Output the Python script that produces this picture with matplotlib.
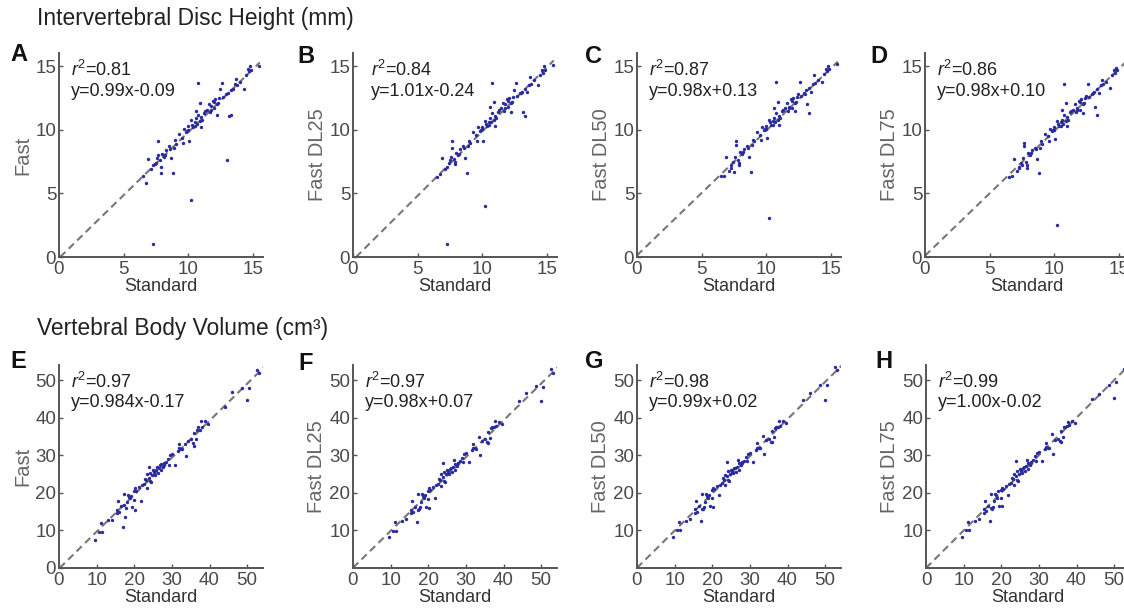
import matplotlib
matplotlib.use("Agg")
import matplotlib.pyplot as plt

plt.rcParams['font.family'] = ['Liberation Sans', 'DejaVu Sans']
plt.rcParams['mathtext.fontset'] = 'custom'
plt.rcParams['mathtext.rm'] = 'Liberation Sans'
plt.rcParams['mathtext.it'] = 'Liberation Sans:italic'

## Intervertebral disc height (mm)
std_disc = [6.5, 6.7, 6.9, 7.1, 7.3, 7.3, 7.5, 7.6, 7.7, 7.7,
            7.8, 7.9, 7.9, 8.0, 8.1, 8.3, 8.5, 8.6, 8.7, 8.8,
            8.9, 9.1, 9.3, 9.5, 9.6, 9.7, 9.8, 9.9, 10.0, 10.1,
            10.2, 10.2, 10.3, 10.4, 10.5, 10.6, 10.6, 10.7, 10.8, 10.8,
            10.9, 10.9, 11.0, 11.0, 11.1, 11.2, 11.5, 11.6, 11.7, 11.8,
            11.9, 12.0, 12.1, 12.2, 12.3, 12.4, 12.5, 12.6, 12.7, 12.9,
            13.0, 13.2, 13.3, 13.3, 13.5, 13.6, 13.7, 13.8, 14.0, 14.3,
            14.5, 14.6, 14.7, 14.8, 14.9, 15.5, 11.3, 12.0, 10.5, 9.0,
            8.2, 11.8, 12.2, 10.0, 7.4, 13.1]
fast_disc = [6.4, 5.8, 7.7, 6.9, 1.0, 7.2, 7.4, 7.8, 9.1, 8.0,
             7.6, 7.1, 6.6, 8.1, 7.9, 8.4, 8.7, 8.5, 7.8, 6.6,
             8.6, 8.9, 9.7, 9.4, 9.0, 10.1, 9.8, 9.9, 10.0, 9.1,
             4.5, 10.8, 10.4, 10.2, 10.6, 11.5, 10.9, 10.5, 13.7, 11.2,
             10.7, 12.1, 10.2, 11.0, 10.8, 11.3, 11.6, 12.0, 11.4, 11.9,
             12.3, 11.7, 12.4, 11.2, 12.1, 12.5, 13.2, 13.7, 12.6, 12.8,
             7.6, 11.1, 11.2, 13.1, 13.2, 13.6, 14.0, 13.5, 13.8, 13.2,
             14.3, 14.8, 14.6, 15.0, 14.7, 15.0, 11.5, 12.2, 10.3, 9.2,
             8.0, 11.6, 12.0, 10.3, 7.3, 12.9]
dl25_disc = [6.3, 6.5, 7.8, 6.9, 1.0, 7.1, 7.6, 7.9, 9.1, 8.6,
             7.7, 7.3, 7.5, 8.2, 8.0, 8.5, 8.7, 8.6, 7.8, 6.6,
             8.7, 9.0, 9.8, 9.6, 9.1, 10.2, 9.9, 10.0, 10.1, 9.1,
             4.0, 10.7, 10.5, 10.3, 10.6, 11.8, 10.9, 10.6, 13.7, 11.3,
             10.8, 12.2, 10.3, 11.1, 10.9, 11.4, 11.7, 12.1, 11.5, 12.0,
             12.4, 11.8, 12.5, 11.4, 12.2, 12.6, 13.1, 13.7, 12.7, 12.9,
             12.9, 11.4, 11.1, 13.2, 13.0, 13.5, 14.2, 13.6, 13.9, 13.5,
             14.3, 14.7, 14.5, 15.0, 14.7, 15.1, 11.6, 12.3, 10.4, 9.1,
             8.1, 11.7, 12.1, 10.2, 7.4, 13.0]
dl50_disc = [6.4, 6.4, 7.9, 6.8, 7.0, 7.2, 6.7, 7.9, 9.1, 8.8,
             7.6, 7.4, 7.2, 8.3, 8.1, 8.5, 8.7, 8.6, 7.9, 6.7,
             8.8, 9.1, 9.8, 9.6, 9.2, 10.2, 10.0, 10.1, 10.1, 9.4,
             3.1, 10.8, 10.6, 10.4, 10.7, 11.7, 10.9, 10.6, 13.8, 11.3,
             10.8, 12.2, 10.4, 11.1, 10.9, 11.5, 11.7, 12.1, 11.5, 11.8,
             12.4, 11.7, 12.5, 11.5, 12.2, 12.6, 12.8, 13.8, 12.7, 12.9,
             12.8, 12.0, 11.3, 13.3, 13.0, 13.6, 14.3, 13.7, 13.9, 13.8,
             14.4, 14.8, 14.6, 15.0, 14.8, 15.2, 11.6, 12.3, 10.4, 9.2,
             8.3, 11.7, 12.1, 10.3, 7.5, 13.1]
dl75_disc = [6.3, 6.4, 7.7, 6.8, 7.1, 7.0, 7.2, 7.8, 9.0, 8.7,
             7.5, 7.2, 7.0, 8.2, 8.0, 8.4, 8.6, 8.5, 7.7, 6.6,
             8.6, 8.9, 9.7, 9.5, 9.1, 10.1, 9.9, 10.0, 10.0, 9.3,
             2.5, 10.7, 10.5, 10.3, 10.6, 11.6, 10.8, 10.5, 13.6, 11.2,
             10.7, 12.1, 10.3, 11.0, 10.8, 11.4, 11.6, 12.0, 11.4, 11.7,
             12.3, 11.6, 12.4, 11.3, 12.1, 12.5, 12.7, 13.6, 12.6, 12.8,
             12.9, 11.8, 11.2, 13.2, 12.9, 13.5, 13.9, 13.6, 13.8, 13.3,
             14.3, 14.7, 14.5, 14.9, 14.7, 15.0, 11.5, 12.2, 10.3, 9.1,
             8.2, 11.6, 12.0, 10.2, 7.4, 13.0]

## Vertebral body volume (cm3)
std_vol = [9.5, 10.7, 11.3, 11.2, 13.0, 14.0, 15.3, 15.5, 15.8, 16.5,
           17.0, 17.2, 17.4, 17.6, 17.8, 18.0, 18.3, 18.8, 19.2, 19.5,
           20.0, 20.1, 20.2, 20.5, 21.3, 21.7, 22.0, 22.5, 23.0, 23.3,
           23.5, 23.8, 24.0, 24.1, 24.2, 24.5, 24.8, 25.0, 25.3, 25.6,
           25.8, 26.2, 26.5, 26.8, 27.0, 27.2, 27.5, 28.0, 28.5, 29.0,
           29.3, 29.6, 30.0, 30.8, 31.5, 32.0, 32.3, 32.8, 33.5, 33.8,
           34.2, 35.0, 35.5, 35.8, 36.0, 36.3, 36.6, 37.0, 37.4, 37.6,
           38.0, 38.8, 39.5, 44.0, 46.0, 48.5, 50.0, 50.5, 52.5, 53.2,
           26.0, 27.8, 22.8, 19.8, 25.2, 31.8, 16.0, 18.5]
fast_vol = [7.5, 9.6, 9.5, 12.0, 12.7, 12.9, 14.7, 15.5, 17.9, 16.5,
            11.0, 16.8, 19.8, 13.6, 16.0, 17.5, 19.5, 18.5, 19.2, 16.3,
            18.2, 15.3, 21.2, 20.6, 21.5, 17.9, 22.0, 22.4, 23.3, 25.1,
            21.4, 24.0, 26.9, 23.1, 25.4, 22.8, 24.7, 26.0, 25.5, 24.7,
            26.2, 25.3, 26.7, 27.4, 26.0, 27.6, 26.9, 27.5, 28.3, 29.0,
            27.5, 30.1, 30.2, 27.3, 31.0, 32.9, 31.7, 31.6, 33.0, 29.8,
            33.8, 34.3, 33.3, 32.4, 35.8, 34.3, 36.7, 37.5, 36.8, 39.2,
            37.6, 39.0, 38.2, 42.8, 46.7, 48.0, 44.6, 47.8, 52.6, 51.8,
            26.8, 27.9, 23.6, 20.4, 25.8, 31.9, 14.8, 19.0]
dl25_vol = [8.2, 9.8, 9.9, 12.2, 12.5, 13.0, 14.5, 15.5, 17.8, 16.3,
            12.3, 15.5, 19.8, 15.6, 16.1, 17.5, 19.6, 18.5, 19.3, 16.3,
            18.4, 16.0, 21.2, 20.8, 21.6, 18.5, 22.1, 22.3, 23.4, 25.0,
            21.9, 24.2, 27.8, 23.2, 25.6, 23.0, 24.9, 26.1, 25.4, 25.0,
            26.3, 25.5, 26.9, 28.6, 26.0, 27.7, 27.2, 27.8, 28.4, 29.3,
            28.3, 30.3, 30.6, 28.2, 31.4, 33.1, 31.8, 31.7, 34.9, 30.0,
            33.9, 34.2, 33.5, 33.3, 36.2, 34.6, 37.2, 37.4, 37.5, 39.0,
            37.8, 38.9, 38.3, 44.3, 46.5, 48.4, 44.3, 48.2, 53.0, 52.0,
            26.6, 28.0, 23.8, 20.6, 25.9, 31.9, 14.9, 19.1]
dl50_vol = [8.2, 10.0, 10.1, 12.3, 12.6, 13.0, 14.6, 15.6, 17.7, 16.4,
            12.5, 15.8, 19.8, 15.7, 16.2, 17.6, 19.7, 18.6, 19.3, 16.4,
            18.5, 16.1, 21.3, 20.9, 21.7, 19.3, 22.2, 22.5, 23.5, 24.8,
            22.0, 24.4, 28.2, 23.3, 25.7, 23.1, 25.0, 26.2, 25.6, 25.2,
            26.5, 25.6, 27.0, 28.7, 26.2, 27.8, 27.3, 27.9, 28.5, 29.5,
            28.4, 30.4, 30.7, 28.3, 31.5, 33.2, 31.9, 31.8, 35.2, 30.2,
            34.0, 34.3, 33.6, 33.5, 36.4, 34.8, 37.3, 37.5, 37.6, 39.0,
            37.9, 39.0, 38.5, 44.8, 46.6, 48.6, 44.8, 48.8, 53.5, 52.8,
            26.7, 28.1, 23.9, 20.7, 26.0, 32.0, 15.0, 19.2]
dl75_vol = [8.3, 10.1, 10.2, 12.3, 12.6, 13.1, 14.6, 15.6, 17.8, 16.5,
            12.6, 16.0, 19.8, 15.8, 16.3, 17.7, 19.8, 18.7, 20.4, 16.5,
            18.6, 16.4, 21.4, 21.0, 21.8, 19.5, 22.3, 22.6, 23.6, 24.9,
            22.2, 24.5, 28.5, 23.4, 25.8, 23.2, 25.1, 26.3, 25.7, 25.4,
            26.6, 25.7, 27.1, 28.6, 26.3, 27.9, 27.4, 28.0, 28.6, 29.8,
            28.5, 30.5, 30.8, 28.4, 31.6, 33.3, 32.0, 31.9, 35.7, 30.3,
            34.1, 34.4, 33.7, 33.6, 36.5, 34.9, 37.4, 37.6, 37.7, 38.8,
            38.0, 39.2, 38.6, 45.0, 46.2, 48.6, 45.3, 49.5, 53.0, 53.5,
            26.8, 28.2, 24.0, 20.8, 26.1, 32.1, 15.1, 19.3]

letters = ['A', 'B', 'C', 'D', 'E', 'F', 'G', 'H']
ylabels = ['Fast', 'Fast DL25', 'Fast DL50', 'Fast DL75'] * 2
r2_text = ['0.81', '0.84', '0.87', '0.86', '0.97', '0.97', '0.98', '0.99']
eq_text = ['y=0.99x-0.09', 'y=1.01x-0.24', 'y=0.98x+0.13', 'y=0.98x+0.10',
           'y=0.984x-0.17', 'y=0.98x+0.07', 'y=0.99x+0.02', 'y=1.00x-0.02']
slopes = [0.99, 1.01, 0.98, 0.98, 0.984, 0.98, 0.99, 1.00]
intercepts = [-0.09, -0.24, 0.13, 0.10, -0.17, 0.07, 0.02, -0.02]
ys = [fast_disc, dl25_disc, dl50_disc, dl75_disc, fast_vol, dl25_vol, dl50_vol, dl75_vol]

W, H = 1124, 613
fig = plt.figure(figsize=(W / 100, H / 100), dpi=100)

lefts_top = [59, 353, 637, 925]
lefts_bot = [59, 353, 637, 926]
axw = 204

blue = '#2b2ba0'
grey = '#555555'

for i in range(8):
    top = i < 4
    if top:
        l = lefts_top[i]
        ax = fig.add_axes([l / W, 1 - 257 / H, axw / W, 204 / H])
        xs = std_disc
        xmax, ymax = 15.8, 16.05
        ticks = [0, 5, 10, 15]
        yticks = ticks
        xend = 15.55
    else:
        l = lefts_bot[i - 4]
        ax = fig.add_axes([l / W, 1 - 568 / H, axw / W, 203 / H])
        xs = std_vol
        xmax, ymax = 54.2, 54.0
        ticks = [0, 10, 20, 30, 40, 50]
        yticks = ticks if i == 4 else [10, 20, 30, 40, 50]
        xend = 54.5

    m, b = slopes[i], intercepts[i]
    x0 = max(0, -b / m)
    ax.plot([x0, xend], [m * x0 + b, m * xend + b], color='#777777', lw=1.5,
            dashes=(3.5, 2.2), zorder=1)
    ax.scatter(xs, ys[i], s=6, color=blue, linewidths=0, zorder=2)

    ax.set_xlim(0, xmax)
    ax.set_ylim(0, ymax)
    ax.set_xticks(ticks)
    ax.set_yticks(yticks)
    for s in ['top', 'right']:
        ax.spines[s].set_visible(False)
    for s in ['left', 'bottom']:
        ax.spines[s].set_color(grey)
        ax.spines[s].set_linewidth(1.4)
    ax.tick_params(direction='in', length=3, width=1, color=grey,
                   labelsize=13.5, labelcolor='#4a4a4a')
    ax.tick_params(axis='x', pad=3)
    ax.tick_params(axis='y', pad=2)
    ax.set_xlabel('Standard', fontsize=13, color='#333333', labelpad=0)
    ax.set_ylabel(ylabels[i], fontsize=14.5, color='#666666', labelpad=2)

    tx = 0.09 if i == 1 else 0.06
    ax.text(tx, 0.965, r'$\mathit{r}^{2}$=' + r2_text[i], transform=ax.transAxes,
            fontsize=13, va='top', ha='left', color='#222222')
    ax.text(tx, 0.855, eq_text[i], transform=ax.transAxes,
            fontsize=13, va='top', ha='left', color='#222222')

# panel letters
letter_pos = [(10, 43), (297, 45), (585, 45), (870, 45),
              (10, 350), (298, 352), (585, 350), (875, 350)]
for k, (px, py) in enumerate(letter_pos):
    fig.text(px / W, 1 - py / H, letters[k], fontsize=17, fontweight='bold',
             va='top', ha='left', color='#111111')

fig.text(37 / W, 1 - 18 / H, 'Intervertebral Disc Height (mm)', fontsize=16.4,
         va='center', ha='left', color='#222222')
fig.text(37 / W, 1 - 328 / H, 'Vertebral Body Volume (cm\u00b3)', fontsize=16.4,
         va='center', ha='left', color='#222222')

fig.savefig('out.png', dpi=100)
